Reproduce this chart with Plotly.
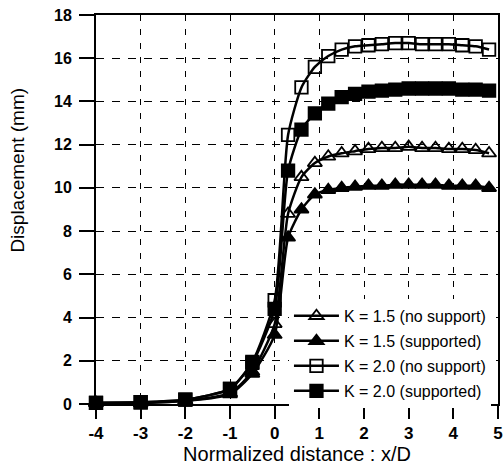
import plotly.graph_objects as go

x_vals = [-4, -3, -2, -1, -0.5, 0, 0.3, 0.6, 0.9, 1.2, 1.5, 1.8, 2.1, 2.4, 2.7, 3.0, 3.3, 3.6, 3.9, 4.2, 4.5, 4.8]

k15_no_support = [0.05, 0.05, 0.15, 0.5, 1.5, 3.7, 8.8, 10.5, 11.15, 11.45, 11.6, 11.7, 11.8, 11.85, 11.85, 11.9, 11.85, 11.85, 11.8, 11.8, 11.75, 11.6]
k15_supported = [0.05, 0.05, 0.15, 0.45, 1.4, 3.2, 7.7, 9.0, 9.7, 9.9, 10.0, 10.05, 10.1, 10.1, 10.15, 10.15, 10.15, 10.15, 10.1, 10.1, 10.1, 10.0]
k20_no_support = [0.05, 0.08, 0.2, 0.7, 1.95, 4.8, 12.45, 14.65, 15.6, 16.1, 16.4, 16.55, 16.6, 16.65, 16.7, 16.7, 16.65, 16.65, 16.65, 16.6, 16.55, 16.4]
k20_supported = [0.05, 0.08, 0.2, 0.7, 1.9, 4.4, 10.8, 12.7, 13.45, 13.9, 14.2, 14.35, 14.45, 14.5, 14.55, 14.6, 14.6, 14.6, 14.6, 14.55, 14.55, 14.5]

series_names = ["K = 1.5 (no support)", "K = 1.5 (supported)", "K = 2.0 (no support)", "K = 2.0 (supported)"]
series_data = [k15_no_support, k15_supported, k20_no_support, k20_supported]
symbols = ["triangle-up-open", "triangle-up", "square-open", "square"]

x_ticks = [-4, -3, -2, -1, 0, 1, 2, 3, 4, 5]
y_ticks = [0, 2, 4, 6, 8, 10, 12, 14, 16, 18]

fig = go.Figure()
for i, (name, ys, sym) in enumerate(zip(series_names, series_data, symbols)):
    fig.add_trace(go.Scatter(
        x=x_vals, y=ys, name=name, mode="lines+markers",
        line=dict(color="black", width=2.5, shape="spline", smoothing=0.6),
        marker=dict(symbol=sym, size=12.5, color="black", line=dict(color="black", width=1.8)),
        cliponaxis=False, legendgroup=f"g{i}",
    ))

font_family = "Liberation Sans, Arial, sans-serif"

fig.update_layout(
    width=504, height=472,
    margin=dict(l=96, r=1, t=15, b=68),
    paper_bgcolor="white", plot_bgcolor="white",
    showlegend=True,
    legend=dict(
        x=0.48, y=0.27, xanchor="left", yanchor="top",
        bgcolor="white", borderwidth=0,
        font=dict(family=font_family, size=16, color="black"),
        tracegroupgap=1.2, itemwidth=45,
    ),
    font=dict(family=font_family, color="black"),
    annotations=[dict(
        text="Displacement (mm)", xref="paper", yref="paper",
        x=-0.194, y=0.60, xanchor="center", yanchor="middle",
        textangle=-90, showarrow=False,
        font=dict(family=font_family, size=19, color="black"),
    )],
)

fig.update_xaxes(
    range=[-4, 5], tickvals=x_ticks, ticktext=[str(v) for v in x_ticks],
    showline=True, linecolor="black", linewidth=2, mirror=True,
    ticks="outside", ticklen=13, tickwidth=2, tickcolor="black",
    ticklabelstandoff=0, ticklabeloverflow="allow",
    tickfont=dict(family=font_family, size=17, weight="bold", color="black"),
    showgrid=True, gridcolor="black", gridwidth=1, griddash="6px,8px",
    zeroline=False,
    title=dict(text="Normalized distance : x/D", font=dict(family=font_family, size=20, color="black"), standoff=4),
)
fig.update_yaxes(
    range=[0, 18], tickvals=y_ticks, ticktext=[str(v) for v in y_ticks],
    showline=True, linecolor="black", linewidth=2, mirror=True,
    ticks="outside", ticklen=15, tickwidth=2, tickcolor="black",
    ticklabelstandoff=4,
    tickfont=dict(family=font_family, size=16, weight="bold", color="black"),
    showgrid=True, gridcolor="black", gridwidth=1, griddash="8px,8px",
    zeroline=False,
)

fig.write_html("out.html")
